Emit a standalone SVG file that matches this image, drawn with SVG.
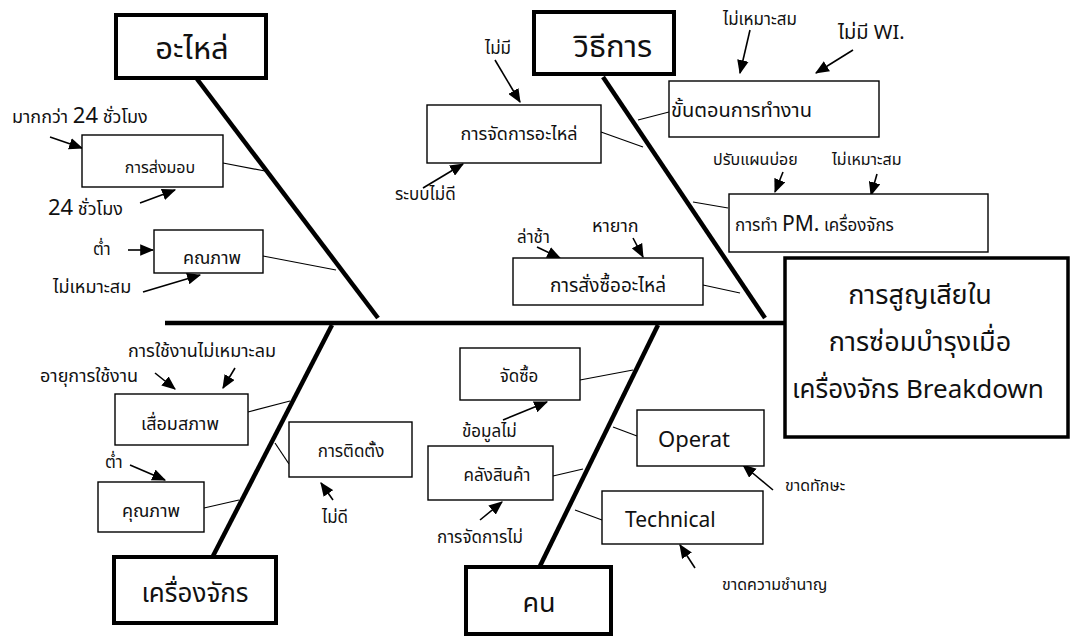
<svg xmlns="http://www.w3.org/2000/svg" width="1074" height="637" viewBox="0 0 1074 637">
<defs>
<marker id="ah" viewBox="0 0 12 10" refX="11" refY="5" markerWidth="14" markerHeight="12" markerUnits="userSpaceOnUse" orient="auto">
<path d="M0,0 L12,5 L0,10 Z" fill="#000"/>
</marker>
<style>
text{font-family:"Noto Sans Thai","Noto Sans","DejaVu Sans",sans-serif;fill:#111}
.cat rect{fill:#fff;stroke:#000;stroke-width:4}
.cat text{text-anchor:middle}
.sub rect{fill:#fff;stroke:#000;stroke-width:1.4}
.sub text{text-anchor:middle}
.bone{stroke:#000;stroke-width:4.5;fill:none}
.twig{stroke:#000;stroke-width:1.2;fill:none}
.arr{stroke:#000;stroke-width:1.6;fill:none;marker-end:url(#ah)}
</style>
</defs>
<rect width="1074" height="637" fill="#fff"/>

<g id="connectors">
<line class="bone" x1="165" y1="323" x2="785" y2="323"/>
<line class="bone" x1="197" y1="79" x2="378" y2="318"/>
<line class="bone" x1="603" y1="77" x2="765" y2="318"/>
<line class="bone" x1="332" y1="325" x2="213" y2="556"/>
<line class="bone" x1="658" y1="325" x2="540" y2="566"/>
<line class="twig" x1="223" y1="163" x2="265" y2="171"/>
<line class="twig" x1="263" y1="256" x2="336" y2="270"/>
<line class="twig" x1="601" y1="132" x2="643" y2="147"/>
<line class="twig" x1="638" y1="120" x2="669" y2="112"/>
<line class="twig" x1="693" y1="202" x2="728" y2="208"/>
<line class="twig" x1="703" y1="285" x2="740" y2="293"/>
<line class="twig" x1="248" y1="412" x2="290" y2="401"/>
<line class="twig" x1="289" y1="464" x2="275" y2="443"/>
<line class="twig" x1="204" y1="508" x2="239" y2="500"/>
<line class="twig" x1="580" y1="380" x2="633" y2="370"/>
<line class="twig" x1="553" y1="476" x2="583" y2="469"/>
<line class="twig" x1="613" y1="427" x2="637" y2="436"/>
<line class="twig" x1="575" y1="510" x2="602" y2="520"/>
<line class="arr" x1="50" y1="137" x2="82" y2="148"/>
<line class="arr" x1="140" y1="203" x2="175" y2="190"/>
<line class="arr" x1="128" y1="250" x2="153" y2="250"/>
<line class="arr" x1="143" y1="292" x2="200" y2="275"/>
<line class="arr" x1="495" y1="60" x2="520" y2="102"/>
<line class="arr" x1="423" y1="188" x2="463" y2="164"/>
<line class="arr" x1="537" y1="247" x2="560" y2="258"/>
<line class="arr" x1="633" y1="238" x2="643" y2="257"/>
<line class="arr" x1="750" y1="30" x2="740" y2="73"/>
<line class="arr" x1="853" y1="50" x2="816" y2="73"/>
<line class="arr" x1="783" y1="172" x2="775" y2="192"/>
<line class="arr" x1="877" y1="174" x2="871" y2="195"/>
<line class="arr" x1="155" y1="373" x2="175" y2="389"/>
<line class="arr" x1="235" y1="368" x2="223" y2="388"/>
<line class="arr" x1="130" y1="465" x2="165" y2="480"/>
<line class="arr" x1="333" y1="500" x2="321" y2="483"/>
<line class="arr" x1="503" y1="420" x2="547" y2="402"/>
<line class="arr" x1="480" y1="520" x2="502" y2="502"/>
<line class="arr" x1="773" y1="490" x2="743" y2="465"/>
<line class="arr" x1="695" y1="568" x2="680" y2="545"/>
</g>

<g id="effect">
<rect x="785" y="258" width="283" height="179" fill="#fff" stroke="#000" stroke-width="3.5"/>
<text x="920" y="304" font-size="27" text-anchor="middle">การสูญเสียใน</text>
<text x="920" y="351" font-size="27" text-anchor="middle">การซ่อมบำรุงเมื่อ</text>
<text x="918" y="398" font-size="26" text-anchor="middle">เครื่องจักร Breakdown</text>
</g>

<g id="cat-parts" class="cat"><rect x="116" y="15" width="150" height="63"/><text x="192" y="59" font-size="31">อะไหล่</text></g>
<g id="cat-method" class="cat"><rect x="534" y="12" width="140" height="62"/><text x="613" y="57" font-size="31">วิธีการ</text></g>
<g id="cat-machine" class="cat"><rect x="114" y="557" width="162" height="66"/><text x="195" y="602" font-size="26">เครื่องจักร</text></g>
<g id="cat-man" class="cat"><rect x="466" y="567" width="145" height="67"/><text x="539" y="612" font-size="27">คน</text></g>

<g id="n-delivery" class="sub"><rect x="82" y="135" width="141" height="52"/><text x="160" y="173" font-size="16">การส่งมอบ</text></g>
<g id="n-quality1" class="sub"><rect x="154" y="230" width="109" height="43"/><text x="212" y="264" font-size="18">คณภาพ</text></g>
<g id="n-partsmgmt" class="sub"><rect x="427" y="105" width="174" height="58"/><text x="519" y="140" font-size="18">การจัดการอะไหล่</text></g>
<g id="n-order" class="sub"><rect x="513" y="258" width="190" height="47"/><text x="608" y="292" font-size="19">การสั่งซื้ออะไหล่</text></g>
<g id="n-procedure" class="sub"><rect x="669" y="81" width="210" height="56"/><text x="671" y="117" font-size="20" style="text-anchor:start">ขั้นตอนการทำงาน</text></g>
<g id="n-pm" class="sub"><rect x="729" y="194" width="259" height="58"/><text x="735" y="231" font-size="17" style="text-anchor:start">การทำ <tspan font-size="21">PM.</tspan> เครื่องจักร</text></g>
<g id="n-deter" class="sub"><rect x="115" y="394" width="133" height="51"/><text x="180" y="430" font-size="18">เสื่อมสภาพ</text></g>
<g id="n-install" class="sub"><rect x="289" y="422" width="123" height="55"/><text x="351" y="457" font-size="17">การติดตั้ง</text></g>
<g id="n-quality2" class="sub"><rect x="98" y="482" width="106" height="50"/><text x="151" y="517" font-size="18">คุณภาพ</text></g>
<g id="n-purchase" class="sub"><rect x="460" y="348" width="120" height="52"/><text x="519" y="382" font-size="17">จัดซื้อ</text></g>
<g id="n-warehouse" class="sub"><rect x="428" y="446" width="125" height="54"/><text x="497" y="481" font-size="17">คลังสินค้า</text></g>
<g id="n-operat" class="sub"><rect x="637" y="410" width="127" height="56"/><text x="658" y="447" font-size="22" style="text-anchor:start">Operat</text></g>
<g id="n-technical" class="sub"><rect x="602" y="491" width="161" height="53"/><text x="625" y="527" font-size="21" style="text-anchor:start">Technical</text></g>

<g id="labels">
<text x="12" y="123" font-size="18">มากกว่า <tspan font-size="22">24</tspan> ชั่วโมง</text>
<text x="48" y="215" font-size="18"><tspan font-size="22">24</tspan>  ชั่วโมง</text>
<text x="93" y="255" font-size="17">ต่ำ</text>
<text x="53" y="293" font-size="18">ไม่เหมาะสม</text>
<text x="485" y="54" font-size="17">ไม่มี</text>
<text x="395" y="200" font-size="17">ระบบไม่ดี</text>
<text x="517" y="243" font-size="17">ล่าช้า</text>
<text x="592" y="232" font-size="18">หายาก</text>
<text x="723" y="25" font-size="17">ไม่เหมาะสม</text>
<text x="838" y="39" font-size="20">ไม่มี WI.</text>
<text x="713" y="165" font-size="16">ปรับแผนบ่อย</text>
<text x="832" y="165" font-size="16">ไม่เหมาะสม</text>
<text x="40" y="382" font-size="18">อายุการใช้งาน</text>
<text x="128" y="357" font-size="18">การใช้งานไม่เหมาะลม</text>
<text x="105" y="468" font-size="17">ต่ำ</text>
<text x="322" y="523" font-size="17">ไม่ดี</text>
<text x="462" y="437" font-size="17">ข้อมูลไม่</text>
<text x="437" y="543" font-size="17">การจัดการไม่</text>
<text x="785" y="491" font-size="16" fill="#333">ขาดทักษะ</text>
<text x="722" y="590" font-size="16" fill="#333">ขาดความชำนาญ</text>
</g>
</svg>
